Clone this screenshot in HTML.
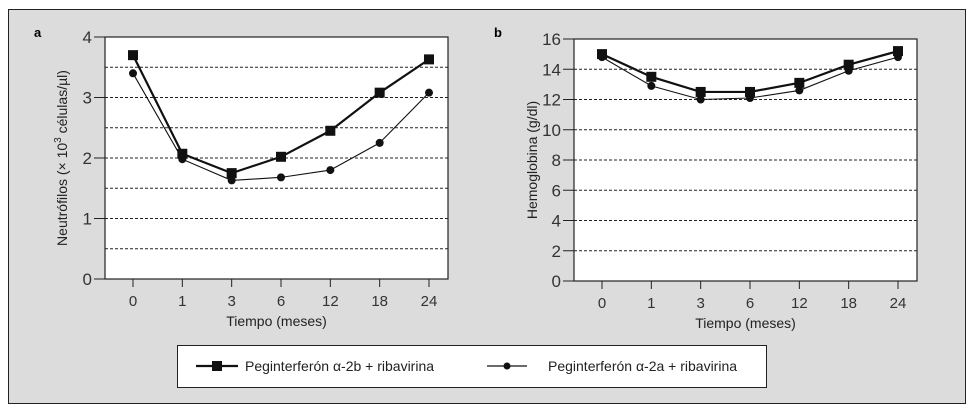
<!DOCTYPE html>
<html><head><meta charset="utf-8"><style>
html,body{margin:0;padding:0;background:#fff;}
svg{display:block;font-family:"Liberation Sans",sans-serif;}
</style></head><body>
<svg id="svg" width="978" height="413" viewBox="0 0 978 413">
<rect x="8.5" y="9.5" width="957" height="394" fill="#dcdcdc" stroke="#222" stroke-width="1"/>
<text x="34" y="37" font-size="13" font-weight="bold">a</text>
<text x="494" y="37" font-size="13" font-weight="bold">b</text>
<g>
<rect x="177.5" y="345.5" width="589" height="42" fill="#fff" stroke="#222"/>
<g>
<line x1="196" y1="366" x2="238" y2="366" stroke="#111" stroke-width="2.2"/>
<rect x="212" y="361" width="10" height="10" fill="#111"/>
<text x="245" y="371" font-size="14" fill="#222">Peginterferón α-2b + ribavirina</text>
</g>
<g>
<line x1="487" y1="366" x2="527" y2="366" stroke="#111" stroke-width="1.2"/>
<circle cx="507" cy="366" r="3.5" fill="#111"/>
<text x="548" y="371" font-size="14" fill="#222">Peginterferón α-2a + ribavirina</text>
</g>
</g>
</svg>
<script>
const categories = ["0","1","3","6","12","18","24"];
const neutroTicks = [0,1,2,3,4];
const neutroGrid = [0.5,1,1.5,2,2.5,3,3.5];
const neutro2b = [3.7,2.07,1.75,2.02,2.45,3.08,3.63];
const neutro2a = [3.4,1.98,1.63,1.68,1.8,2.25,3.08];
const hemoTicks = [0,2,4,6,8,10,12,14,16];
const hemoGrid = [2,4,6,8,10,12,14];
const hemo2b = [15.0,13.5,12.5,12.5,13.1,14.3,15.2];
const hemo2a = [14.8,12.9,12.0,12.1,12.6,13.9,14.8];

const NS="http://www.w3.org/2000/svg";
const svg=document.getElementById('svg');
function mk(tag,attrs,parent){const e=document.createElementNS(NS,tag);for(const k in attrs)e.setAttribute(k,attrs[k]);(parent||svg).appendChild(e);return e;}

function chart(cfg){
  const g=mk('g',{});
  
  
  const {x0,x1,y0,y1,max}=cfg;
  const ys=v=>y1-(v/max)*(y1-y0);
  const xs=i=>cfg.cx0+i*(cfg.cx1-cfg.cx0)/(categories.length-1);
  const bg=mk('rect',{x:x0,y:y0,width:x1-x0,height:y1-y0,fill:'#fff'},g);
  
  
  cfg.grid.forEach(v=>{
    const l=mk('line',{x1:x0,x2:x1,y1:ys(v),y2:ys(v),stroke:'#222','stroke-width':0.9,'stroke-dasharray':'3,2'},g);
    
    
  });
  const fr=mk('rect',{x:x0,y:y0,width:x1-x0,height:y1-y0,fill:'none',stroke:'#222','stroke-width':1.2},g);
  
  
  cfg.ticks.forEach(v=>{
    mk('line',{x1:x0-11,x2:x0,y1:ys(v),y2:ys(v),stroke:'#222'},g);
    const t=mk('text',{x:x0-13,y:ys(v)+6,'font-size':17,'text-anchor':'end',fill:'#333'},g);
    t.textContent=v;
    
    
  });
  categories.forEach((c,i)=>{
    mk('line',{x1:xs(i),x2:xs(i),y1:y1,y2:y1+8,stroke:'#222'},g);
    const t=mk('text',{x:xs(i),y:y1+27,'font-size':15,'text-anchor':'middle',fill:'#333'},g);
    t.textContent=c;
    
    
  });
  const xt=mk('text',{x:(x0+x1)/2,y:y1+47,'font-size':14,'text-anchor':'middle',fill:'#222'},g);
  xt.textContent='Tiempo (meses)';
  
  
  const yt=mk('text',{x:0,y:0,'font-size':14,'text-anchor':'middle',fill:'#222',transform:`translate(${cfg.ytx},${(y0+y1)/2}) rotate(-90)`},g);
  yt.innerHTML=cfg.ytitle;
  
  
  // series a (circle, thin)
  const pa=mk('polyline',{points:cfg.a.map((v,i)=>xs(i)+','+ys(v)).join(' '),fill:'none',stroke:'#111','stroke-width':1.1},g);
  
  
  cfg.a.forEach((v,i)=>{
    const c=mk('circle',{cx:xs(i),cy:ys(v),r:4,fill:'#111'},g);
    
    
  });
  const pb=mk('polyline',{points:cfg.b.map((v,i)=>xs(i)+','+ys(v)).join(' '),fill:'none',stroke:'#111','stroke-width':2.2},g);
  
  
  cfg.b.forEach((v,i)=>{
    const r=mk('rect',{x:xs(i)-5,y:ys(v)-5,width:10,height:10,fill:'#111'},g);
    
    
  });
}
chart({name:'neutrophils-chart',x0:105,x1:448,y0:37,y1:279,max:4,cx0:133,cx1:429,ticks:neutroTicks,grid:neutroGrid,a:neutro2a,b:neutro2b,ytx:67,ytitle:'Neutrófilos (× 10<tspan dy="-6" font-size="10">3</tspan><tspan dy="6"> células/µl)</tspan>'});
chart({name:'hemoglobin-chart',x0:574,x1:917,y0:39,y1:281,max:16,cx0:602,cx1:898,ticks:hemoTicks,grid:hemoGrid,a:hemo2a,b:hemo2b,ytx:537,ytitle:'Hemoglobina (g/dl)'});
</script>
</body></html>
